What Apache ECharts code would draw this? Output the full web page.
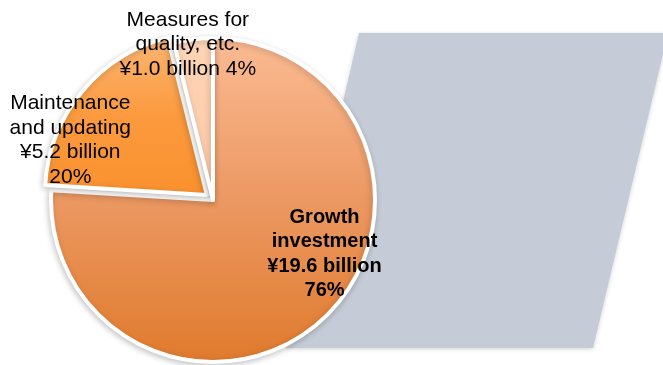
<!DOCTYPE html>
<html>
<head>
<meta charset="utf-8">
<style>
  html, body { margin: 0; padding: 0; background: #ffffff; }
  #chart { width: 663px; height: 365px; }
</style>
<script src="https://cdn.jsdelivr.net/npm/echarts@6/dist/echarts.min.js"></script>
</head>
<body>
<div id="chart"></div>
<script>
// Capital expenditure breakdown (billions of yen)
const categories = ['Growth\ninvestment', 'Maintenance\nand updating', 'Measures for\nquality, etc.'];
const values = [19.6, 5.2, 1.0];

// Per-slice presentation
const sliceFills = [
  ['#FBBB93', '#EC9862', '#DF7A2C'],
  ['#FBB673', '#FB9A3E', '#FA912D'],
  ['#FDD5B6', '#FDCFAE', '#FCC9A5']
];
const labelOffsets = [[54, -7], [-72, -1], [-15, -72]];
const labelBold = [true, false, false];
const percentJoin = ['\n', '\n', ' '];
const exploded = [false, true, false];

function gradient(stops) {
  return new echarts.graphic.LinearGradient(0, 0, 0, 1, [
    { offset: 0, color: stops[0] },
    { offset: 0.5, color: stops[1] },
    { offset: 1, color: stops[2] }
  ]);
}

const chart = echarts.init(document.getElementById('chart'), null, { renderer: 'canvas' });

const pieData = categories.map((name, i) => {
  const labelStyle = {
    offset: labelOffsets[i],
    fontWeight: labelBold[i] ? 'bold' : 'normal',
    fontSize: labelBold[i] ? 20 : 21
  };
  return {
    name: name,
    value: values[i],
    selected: exploded[i],
    itemStyle: { color: gradient(sliceFills[i]) },
    label: labelStyle,
    select: { label: labelStyle }
  };
});

chart.setOption({
  animation: false,
  graphic: [{
    type: 'polygon',
    z: -10,
    shape: { points: [[359, 33], [668, 33], [593, 348], [286, 348]] },
    style: {
      fill: '#C5CCD7',
      shadowBlur: 4,
      shadowColor: 'rgba(0,0,0,0.18)',
      shadowOffsetY: 1
    }
  }],
  series: [{
    type: 'pie',
    center: [213, 200],
    radius: [0, 162],
    startAngle: 90,
    clockwise: true,
    selectedMode: 'multiple',
    selectedOffset: 8,
    percentPrecision: 0,
    avoidLabelOverlap: false,
    emphasis: { disabled: true },
    itemStyle: {
      borderColor: '#ffffff',
      borderWidth: 4,
      shadowBlur: 6,
      shadowColor: 'rgba(0,0,0,0.2)',
      shadowOffsetX: -1,
      shadowOffsetY: 2
    },
    label: {
      show: true,
      position: 'inside',
      color: '#000000',
      fontFamily: '"Liberation Sans", Arial, sans-serif',
      lineHeight: 24.5,
      align: 'center',
      formatter: function (p) {
        const i = p.dataIndex;
        return p.name + '\n¥' + p.value.toFixed(1) + ' billion' + percentJoin[i] + p.percent + '%';
      }
    },
    labelLine: { show: false },
    data: pieData
  }]
});
</script>
</body>
</html>
